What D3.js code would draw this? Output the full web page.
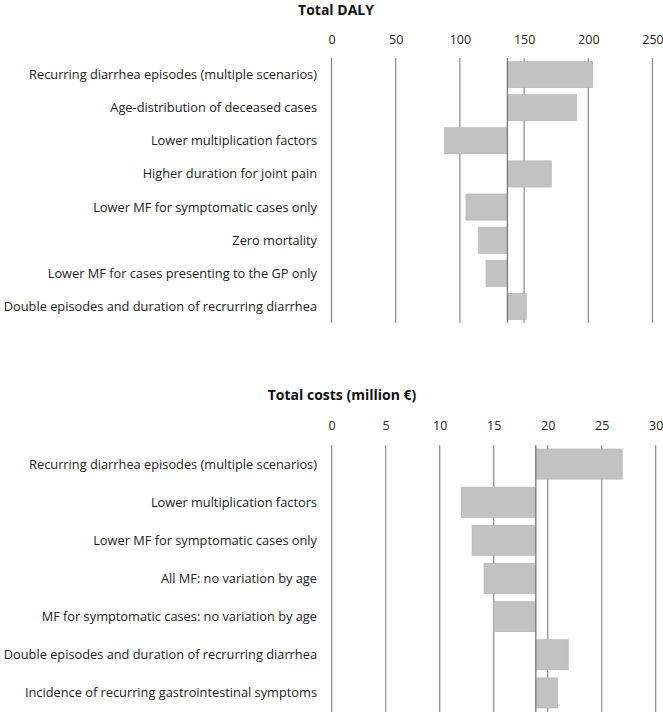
<!DOCTYPE html>
<html><head><meta charset="utf-8">
<script src="https://cdn.jsdelivr.net/npm/d3@7"></script>
<style>body{margin:0;background:#fff}svg{display:block}</style>
</head><body>
<script>
const dalyTitle = "Total DALY";
const dalyCategories = [
  "Recurring diarrhea episodes (multiple scenarios)",
  "Age-distribution of deceased cases",
  "Lower multiplication factors",
  "Higher duration for joint pain",
  "Lower MF for symptomatic cases only",
  "Zero mortality",
  "Lower MF for cases presenting to the GP only",
  "Double episodes and duration of recrurring diarrhea"
];
const dalyBase = 137;
const dalyValues = [203.4, 190.7, 88.1, 171.2, 104.7, 114.6, 120.3, 151.7];
const dalyTicks = [0, 50, 100, 150, 200, 250];

const costTitle = "Total costs (million €)";
const costCategories = [
  "Recurring diarrhea episodes (multiple scenarios)",
  "Lower multiplication factors",
  "Lower MF for symptomatic cases only",
  "All MF: no variation by age",
  "MF for symptomatic cases: no variation by age",
  "Double episodes and duration of recrurring diarrhea",
  "Incidence of recurring gastrointestinal symptoms"
];
const costBase = 18.9;
const costValues = [26.9, 12.0, 13.0, 14.1, 15.0, 21.9, 20.9];
const costTicks = [0, 5, 10, 15, 20, 25, 30];

const W = 663, H = 712;
const svg = d3.select("body").append("svg").attr("width", W).attr("height", H);
const FONT = "'Open Sans', 'DejaVu Sans', sans-serif";

function panel(opt) {
  const g = svg.append("g");
  const x = d3.scaleLinear().domain([opt.ticks[0], opt.ticks[opt.ticks.length-1]]).range([opt.x0, opt.x1]);
  const y = d3.scaleBand().domain(opt.cats).range([opt.top, opt.bottom]).paddingInner(opt.pad).paddingOuter(opt.pad/2);
  // title
  g.append("text").attr("x", opt.titleX).attr("y", opt.titleY)
    .attr("text-anchor", "middle").attr("font-family", FONT).attr("font-weight", "bold")
    .attr("font-size", 14).attr("fill", "#111").text(opt.title);
  // top axis tick labels
  const ax = d3.axisTop(x).tickValues(opt.ticks).tickSize(0).tickPadding(0);
  const axg = g.append("g").attr("transform", `translate(0,${opt.tickY})`).call(ax);
  axg.select(".domain").remove();
  axg.selectAll("text").attr("font-family", FONT).attr("font-size", 12.5).attr("fill", "#222");
  // gridlines
  g.append("g").selectAll("line").data(opt.ticks).join("line")
    .attr("x1", d => x(d)).attr("x2", d => x(d))
    .attr("y1", opt.top).attr("y2", opt.gridBottom)
    .attr("stroke", "#8a8a8a").attr("stroke-width", 1.2);
  // bars
  g.append("g").selectAll("rect").data(opt.cats).join("rect")
    .attr("x", (d,i) => x(Math.min(opt.base, opt.vals[i])))
    .attr("width", (d,i) => Math.abs(x(opt.vals[i]) - x(opt.base)))
    .attr("y", d => y(d)).attr("height", y.bandwidth())
    .attr("fill", "#c2c2c2").attr("stroke", "#b0b0b0").attr("stroke-width", 0.6);
  // base line
  g.append("line").attr("x1", x(opt.base)).attr("x2", x(opt.base))
    .attr("y1", opt.top).attr("y2", opt.gridBottom)
    .attr("stroke", "#777").attr("stroke-width", 1.3);
  // category labels
  g.append("g").selectAll("text").data(opt.cats).join("text")
    .attr("x", opt.labelX).attr("y", d => y(d) + y.bandwidth()/2)
    .attr("dy", "0.35em").attr("text-anchor", "end")
    .attr("font-family", FONT).attr("font-size", 12.8).attr("fill", "#222")
    .text(d => d);
}

panel({title: dalyTitle, titleX: 336, titleY: 15, cats: dalyCategories, vals: dalyValues, base: dalyBase,
  ticks: dalyTicks, x0: 331.5, x1: 652.5, top: 58, bottom: 323, gridBottom: 323, pad: 0.21,
  tickY: 43.5, labelX: 317});
panel({title: costTitle, titleX: 342, titleY: 400, cats: costCategories, vals: costValues, base: costBase,
  ticks: costTicks, x0: 331.7, x1: 655.7, top: 445, bottom: 712, gridBottom: 712, pad: 0.21,
  tickY: 429.5, labelX: 317});
</script>
</body></html>
